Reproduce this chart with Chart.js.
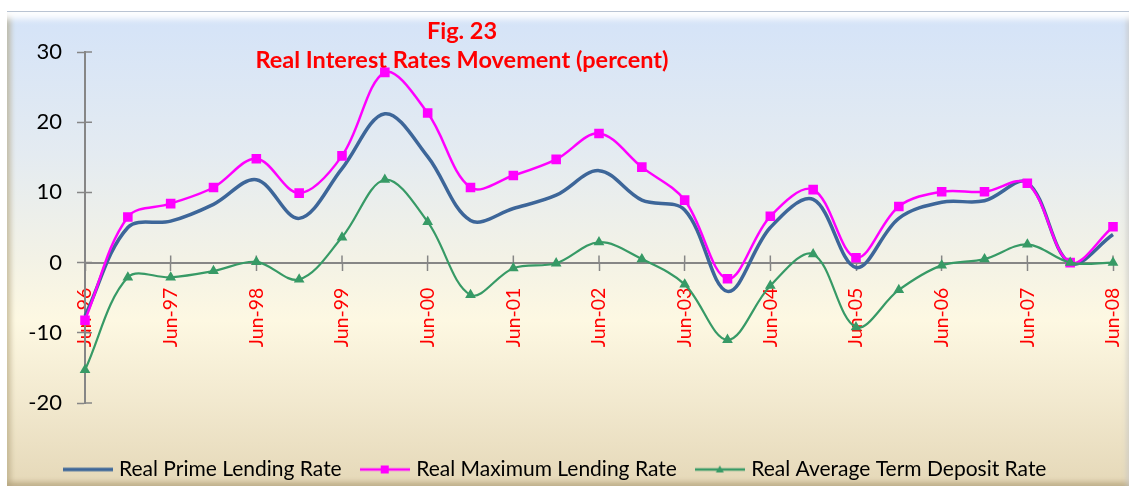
<!DOCTYPE html>
<html>
<head>
<meta charset="utf-8">
<script src="https://cdn.jsdelivr.net/npm/chart.js@4.4.1/dist/chart.umd.min.js"></script>
<style>
  body { margin: 0; background: #ffffff; }
  #wrap { position: relative; width: 1131px; height: 487px; overflow: hidden; }
  #frame {
    position: absolute; left: 7px; top: 11px; width: 1122px; height: 475px;
    box-sizing: border-box;
    border-top: 1px solid #b9c4d3;
    background: linear-gradient(to bottom, #d4e3f8 0%, #e4ebf1 30%, #f3f2e6 52%, #fdf8e2 65%, #f2e9cf 82%, #e5d8b8 100%);
    box-shadow: inset 0 13px 6px -6px rgba(255,255,255,0.95),
                inset 7px 0 5px -3px rgba(175,160,120,0.55),
                inset -5px 0 4px -2px rgba(200,200,200,0.6),
                inset 0 -7px 5px -3px rgba(170,150,110,0.6);
  }
  canvas { position: absolute; left: 0; top: 0; }
</style>
</head>
<body>
<div id="wrap">
  <div id="frame"></div>
  <canvas id="rateChart" width="1131" height="487"></canvas>
</div>
<script>
// Datos: semestral, Jun-96 a Jun-08
const periods = ['Jun-96', 'Dec-96', 'Jun-97', 'Dec-97', 'Jun-98', 'Dec-98', 'Jun-99', 'Dec-99',
  'Jun-00', 'Dec-00', 'Jun-01', 'Dec-01', 'Jun-02', 'Dec-02', 'Jun-03', 'Dec-03',
  'Jun-04', 'Dec-04', 'Jun-05', 'Dec-05', 'Jun-06', 'Dec-06', 'Jun-07', 'Dec-07', 'Jun-08'];

const primeRate = [-7.6, 5.0, 5.9, 8.3, 11.8, 6.3, 13.4, 21.2, 15.1, 6.0, 7.7, 9.6, 13.1,
  8.9, 7.5, -4.1, 5.0, 9.0, -0.7, 6.3, 8.6, 8.8, 11.4, -0.1, 4.0];
const maxRate = [-8.2, 6.5, 8.4, 10.7, 14.8, 9.9, 15.2, 27.1, 21.3, 10.7, 12.4, 14.7, 18.4,
  13.6, 8.9, -2.3, 6.6, 10.4, 0.7, 8.0, 10.1, 10.1, 11.3, 0.0, 5.1];
const depositRate = [-15.3, -2.1, -2.1, -1.2, 0.1, -2.4, 3.6, 11.8, 5.8, -4.6, -0.8, -0.1, 2.9,
  0.5, -3.1, -11.0, -3.3, 1.2, -9.2, -3.9, -0.4, 0.5, 2.6, 0.0, 0.0];

const seriesNames = ['Real Prime Lending Rate', 'Real Maximum Lending Rate', 'Real Average Term Deposit Rate'];
const titleLines = ['Fig. 23', 'Real Interest Rates Movement (percent)'];
const yTicks = [-20, -10, 0, 10, 20, 30];

const blue = '#3d6699';
const magenta = '#ff00ff';
const green = '#379a66';
const axisGray = '#868686';
const fontFamily = 'Lato, "Open Sans", sans-serif';

// Icono de leyenda: línea con marcador
function legendIcon(color, marker, width) {
  const c = document.createElement('canvas');
  c.width = 50; c.height = 12;
  const g = c.getContext('2d');
  g.strokeStyle = color; g.lineWidth = width;
  g.beginPath(); g.moveTo(0, 6); g.lineTo(50, 6); g.stroke();
  g.fillStyle = color;
  if (marker === 'rect') g.fillRect(21, 2, 8, 8);
  if (marker === 'triangle') { g.beginPath(); g.moveTo(25, 2); g.lineTo(29, 9); g.lineTo(21, 9); g.closePath(); g.fill(); }
  return c;
}
const legendIcons = [legendIcon(blue, null, 3.5), legendIcon(magenta, 'rect', 2.5), legendIcon(green, 'triangle', 2.5)];

// Título rojo centrado sobre la zona de la gráfica
const titlePlugin = {
  id: 'figTitle',
  beforeDatasetsDraw(chart) {
    const ctx = chart.ctx;
    ctx.save();
    ctx.fillStyle = '#ff0000';
    ctx.font = 'bold 23.5px ' + fontFamily;
    ctx.textAlign = 'center';
    ctx.textBaseline = 'middle';
    ctx.fillText(titleLines[0], 462, 31);
    ctx.fillText(titleLines[1], 462, 60);
    ctx.restore();
  }
};

// Marcas de eje que cruzan la línea (estilo Excel)
const crossTicks = {
  id: 'crossTicks',
  beforeDatasetsDraw(chart) {
    const { ctx, scales: { x, y } } = chart;
    const axisX = chart.chartArea.left;
    const axisY = y.getPixelForValue(0);
    ctx.save();
    ctx.strokeStyle = axisGray;
    ctx.lineWidth = 1.5;
    ctx.beginPath();
    y.ticks.forEach(t => {
      const py = y.getPixelForValue(t.value);
      ctx.moveTo(axisX, py); ctx.lineTo(axisX + 7, py);
    });
    periods.forEach((p, i) => {
      if (i % 2 !== 0) return;
      const px = x.getPixelForValue(i);
      ctx.moveTo(px, axisY); ctx.lineTo(px, axisY - 7);
    });
    ctx.stroke();
    ctx.restore();
  }
};

const ctx = document.getElementById('rateChart').getContext('2d');
const rateChart = new Chart(ctx, {
  type: 'line',
  data: {
    labels: periods,
    datasets: [
      {
        label: seriesNames[0],
        data: primeRate,
        borderColor: blue,
        backgroundColor: blue,
        borderWidth: 3.5,
        pointRadius: 0,
        tension: 0.35,
        order: 3
      },
      {
        label: seriesNames[1],
        data: maxRate,
        borderColor: magenta,
        backgroundColor: magenta,
        borderWidth: 2.5,
        pointStyle: 'rect',
        pointRadius: 5,
        tension: 0.35,
        order: 2
      },
      {
        label: seriesNames[2],
        data: depositRate,
        borderColor: green,
        backgroundColor: green,
        borderWidth: 2.2,
        pointStyle: 'triangle',
        pointRadius: 4,
        tension: 0.35,
        order: 1
      }
    ]
  },
  options: {
    responsive: false,
    animation: false,
    layout: { padding: { left: 0, right: 18, top: 52, bottom: -3 } },
    plugins: {
      title: { display: false },
      tooltip: { enabled: false },
      legend: {
        position: 'bottom',
        // título vacío: sólo reserva espacio entre el eje y la leyenda
        title: { display: true, text: '', font: { size: 10 }, padding: { top: 0, bottom: 22 } },
        labels: {
          color: '#000000',
          font: { family: fontFamily, size: 21 },
          usePointStyle: true,
          pointStyleWidth: 42,
          padding: 22,
          sort: (a, b) => a.datasetIndex - b.datasetIndex,
          generateLabels(chart) {
            const items = Chart.defaults.plugins.legend.labels.generateLabels(chart);
            items.forEach(it => { it.pointStyle = legendIcons[it.datasetIndex]; });
            return items;
          }
        }
      }
    },
    scales: {
      x: {
        position: { y: 0 },
        offset: false,
        afterFit: s => { s.paddingLeft = 0; s.paddingRight = 0; },
        grid: {
          drawOnChartArea: false,
          tickLength: 7,
          tickWidth: 1.5,
          tickColor: c => (c.index % 2 === 0 ? axisGray : 'rgba(0,0,0,0)')
        },
        border: { color: axisGray, width: 2 },
        ticks: {
          autoSkip: false,
          minRotation: 90,
          maxRotation: 90,
          padding: 18,
          color: '#ff0000',
          font: { family: fontFamily, size: 19.5 },
          callback: (v, i) => (i % 2 === 0 ? periods[i] : '')
        }
      },
      y: {
        min: -20,
        max: 30,
        afterBuildTicks: s => { s.ticks = yTicks.map(v => ({ value: v })); },
        afterFit: s => { s.width = 85; },
        grid: { drawOnChartArea: false, tickLength: 8, tickWidth: 1.5, tickColor: axisGray },
        border: { color: axisGray, width: 2 },
        ticks: {
          padding: 15,
          color: '#000000',
          font: { family: fontFamily, size: 22 }
        }
      }
    }
  },
  plugins: [titlePlugin, crossTicks]
});
</script>
</body>
</html>
